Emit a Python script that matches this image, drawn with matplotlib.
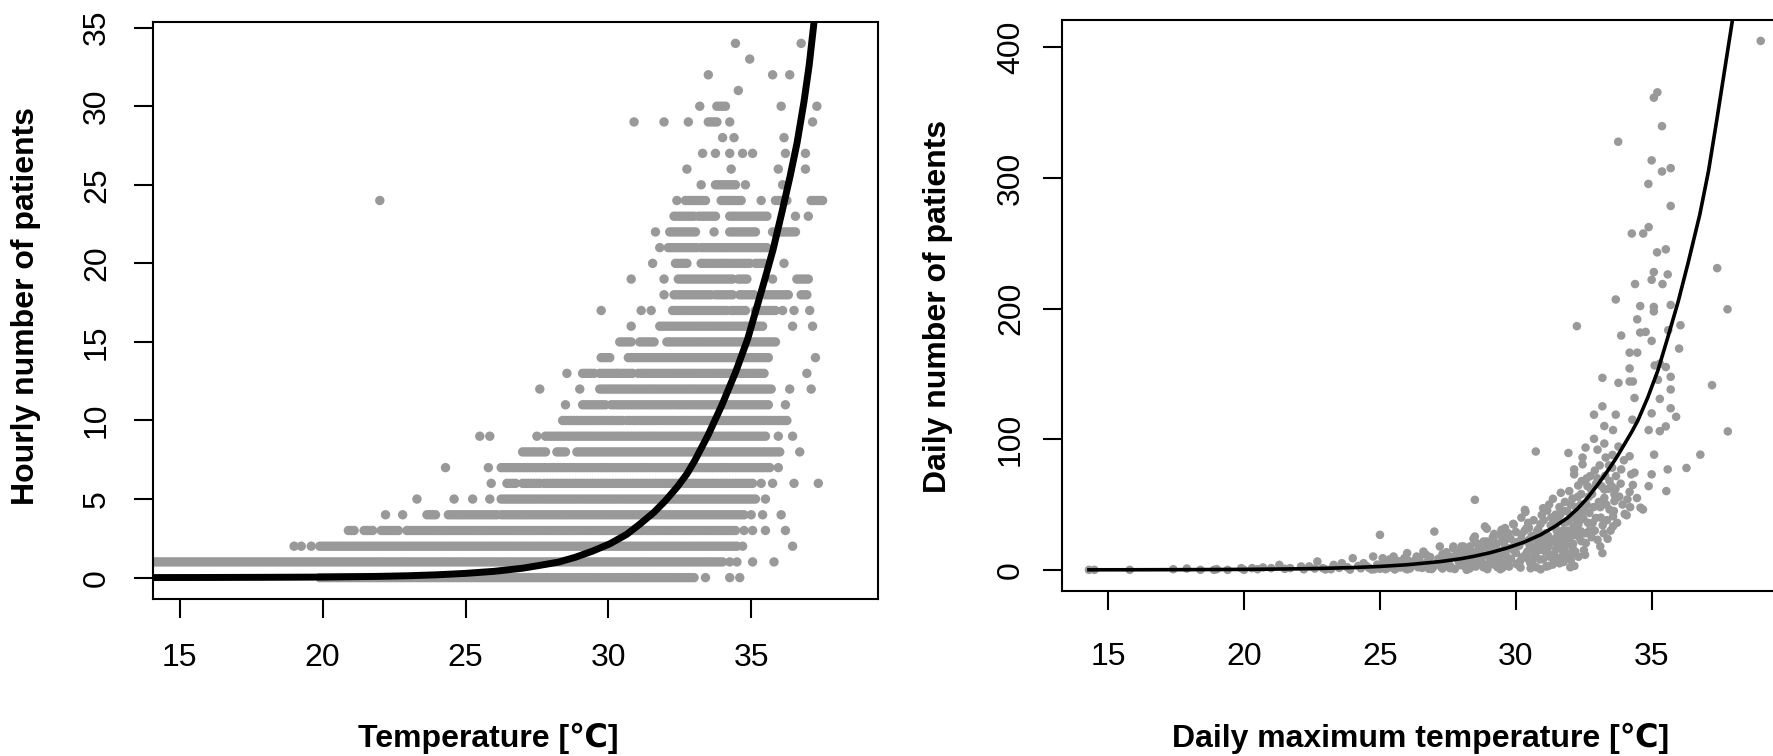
import numpy as np
import matplotlib
matplotlib.use("Agg")
import matplotlib.pyplot as plt

plt.rcParams["font.family"] = ["Liberation Sans", "DejaVu Sans"]

W, H = 1774, 756
DOT = "#999999"

# hourly counts 0..34, each with the temperature stretches (degC) where points sit
hourly_counts = list(range(35))
hourly_segments = [
    [(19.9, 33.0), (33.4, 33.4), (34.25, 34.25), (34.6, 34.6)],
    [(14.0, 34.05), (34.25, 34.25), (34.5, 34.5), (35.05, 35.05), (35.8, 35.8)],
    [(19.0, 19.0), (19.25, 19.25), (19.6, 19.6), (19.9, 34.5), (34.7, 34.7), (36.45, 36.45)],
    [(20.9, 21.1), (21.45, 21.75), (22.05, 22.7), (22.95, 34.45), (34.75, 34.75), (35.05, 35.05),
     (35.5, 35.5), (36.2, 36.2)],
    [(22.2, 22.2), (22.8, 22.8), (23.65, 23.95), (24.4, 26.1), (26.25, 34.8), (35.0, 35.0),
     (35.4, 35.4), (36.05, 36.05)],
    [(23.3, 23.3), (24.6, 24.6), (25.25, 25.25), (25.85, 25.85), (26.25, 35.2), (35.5, 35.5)],
    [(25.9, 25.9), (26.45, 26.7), (27.0, 27.6), (27.75, 35.1), (35.35, 35.35), (35.75, 35.75),
     (36.5, 36.5), (37.35, 37.35)],
    [(24.3, 24.3), (25.8, 25.8), (26.25, 27.1), (27.25, 27.95), (28.05, 35.65), (35.95, 35.95)],
    [(27.0, 27.75), (28.2, 28.5), (28.9, 35.95), (36.7, 36.7)],
    [(25.5, 25.5), (25.85, 25.85), (27.5, 27.5), (27.8, 35.55), (35.95, 35.95), (36.45, 36.45)],
    [(28.4, 29.1), (29.2, 30.5), (30.65, 36.2)],
    [(28.5, 28.5), (29.1, 29.9), (30.1, 35.6), (36.2, 36.2)],
    [(27.6, 27.6), (29.0, 29.0), (29.7, 30.25), (30.4, 35.75), (36.35, 36.35), (37.1, 37.1)],
    [(28.55, 28.55), (29.1, 29.5), (29.7, 30.25), (30.35, 30.85), (31.05, 35.5), (36.95, 36.95)],
    [(29.75, 30.05), (30.7, 35.65), (37.25, 37.25)],
    [(30.4, 30.8), (31.1, 31.6), (32.05, 35.85)],
    [(30.8, 30.8), (31.8, 35.45), (36.45, 36.45), (37.15, 37.15)],
    [(29.75, 29.75), (31.15, 31.15), (31.5, 31.5), (32.25, 34.2), (34.3, 34.8), (35.15, 35.85),
     (36.1, 36.1), (36.5, 36.5), (37.05, 37.05)],
    [(31.95, 31.95), (32.3, 33.6), (33.75, 34.4), (34.6, 35.1), (35.5, 36.35), (36.75, 37.0)],
    [(30.8, 30.8), (31.95, 31.95), (32.45, 34.35), (34.55, 34.9), (35.75, 35.75), (36.6, 37.0)],
    [(31.55, 31.55), (32.35, 32.8), (33.25, 34.95), (35.15, 35.5), (36.15, 36.15)],
    [(31.8, 31.8), (32.1, 33.15), (33.25, 35.6)],
    [(31.65, 31.65), (32.15, 32.95), (33.05, 33.05), (33.7, 33.7), (34.25, 35.15), (35.75, 36.55)],
    [(32.3, 32.95), (33.15, 33.8), (34.25, 35.55), (36.55, 36.55), (37.0, 37.0)],
    [(22.0, 22.0), (32.4, 32.4), (32.7, 33.45), (33.95, 34.65), (35.35, 35.35), (35.85, 36.3),
     (37.1, 37.5)],
    [(33.25, 33.25), (33.75, 34.5), (34.8, 34.8), (36.1, 36.1)],
    [(32.75, 32.75), (34.3, 34.3), (35.95, 35.95), (36.9, 36.9)],
    [(33.3, 33.3), (33.75, 33.75), (34.25, 34.25), (34.7, 34.7), (35.05, 35.05), (36.2, 36.2),
     (36.9, 36.9)],
    [(34.0, 34.0), (34.4, 34.4), (36.15, 36.15)],
    [(30.9, 30.9), (31.95, 31.95), (32.8, 32.8), (33.5, 33.8), (34.25, 34.25), (37.15, 37.15)],
    [(33.2, 33.2), (33.8, 34.15), (36.05, 36.05), (37.3, 37.3)],
    [(34.55, 34.55)],
    [(33.5, 33.5), (35.75, 35.75), (36.35, 36.35)],
    [(34.95, 34.95)],
    [(34.45, 34.45), (36.75, 36.75)],
]
TEMP_STEP = 0.1  # temperatures are recorded to 0.1 degC

# fitted curve, hourly panel
fit_hourly_t = [14.06, 16, 18, 20, 22, 23, 24, 25, 26, 26.5, 27, 27.6, 28.26, 28.85, 29.45, 30.05,
                30.64, 31.1, 31.6, 32.0, 32.43, 32.75, 33.03, 33.5, 33.98, 34.46, 34.88, 35.18,
                35.48, 35.77, 36.07, 36.37, 36.61, 36.85, 37.03, 37.21]
fit_hourly_n = [0.004, 0.009, 0.02, 0.035, 0.08, 0.12, 0.18, 0.27, 0.4, 0.5, 0.6, 0.78, 0.99,
                1.3, 1.69, 2.15, 2.75, 3.4, 4.16, 4.9, 5.81, 6.6, 7.46, 9.1, 11.0, 13.1, 15.2,
                17.1, 19.0, 20.9, 23.2, 25.6, 27.7, 30.3, 32.6, 35.5]

# daily panel: (daily max temperature, patients)
daily_cool = [
    (14.3, 0), (14.5, 0), (15.8, 0), (17.4, 0.5), (17.9, 1), (18.4, 0), (18.9, 0), (19.0, 0.5),
    (19.4, 0), (19.9, 1.3), (20.0, 0), (20.3, 1.3), (20.5, 0.5), (20.7, 1.8), (21.0, 1.3),
    (21.3, 3.8), (21.5, 0.8), (21.7, 1.3), (22.1, 2.6), (22.2, 0.4), (22.4, 2.6), (22.6, 1.0),
    (22.7, 6.4), (22.9, 1.3), (23.0, 0.3), (23.2, 0.5), (23.3, 3.8), (23.5, 1.5), (23.6, 5.1),
    (23.8, 2.0), (23.9, 0.2), (24.0, 8.9), (24.2, 3.0), (24.3, 1.2), (24.4, 5.1), (24.7, 0.3),
]
daily_warm = [
    (24.75, 10.2), (25.0, 26.8), (25.1, 8.9), (25.5, 10.2), (25.6, 3.8), (26.0, 12.8), (26.2, 3.8),
    (26.35, 10.2), (26.7, 11.5), (27.0, 29.3), (27.2, 17.9), (27.7, 17.9), (28.0, 17.9),
    (24.6, 1.5), (24.9, 4.0), (25.3, 2.0), (25.8, 6.5), (26.1, 1.0), (26.5, 5.5), (26.9, 3.0),
    (27.4, 8.0), (27.9, 6.0), (24.8, 0.5), (25.2, 0.5), (25.7, 2.5), (26.3, 7.5), (26.8, 0.8),
    (27.3, 12.0), (27.6, 2.5), (25.4, 6.0), (26.6, 14.0), (27.1, 5.0), (27.8, 9.5), (25.9, 9.0),
    (24.5, 3.0), (25.0, 0.8), (25.5, 1.2), (26.0, 0.4), (26.4, 2.0), (26.9, 0.6), (27.3, 1.0),
    (25.05, 2.2), (25.15, 5.5), (25.25, 1.0), (25.35, 8.0), (25.45, 3.3), (25.55, 0.3),
    (25.65, 6.8), (25.75, 1.8), (25.85, 4.2), (25.95, 0.9), (26.05, 7.0), (26.15, 2.8),
    (26.25, 5.0), (26.45, 9.5), (26.55, 1.5), (26.65, 3.8), (26.75, 6.2), (26.85, 9.8),
    (26.95, 1.8), (27.05, 4.5), (27.15, 8.5), (27.25, 2.2), (27.35, 6.0), (27.45, 13.5),
    (27.55, 4.0), (27.65, 10.0), (27.75, 0.6), (27.85, 13.0), (27.95, 3.6),
    (28.49, 53.6), (28.49, 25.5), (28.86, 33.2), (28.92, 21.7), (29.47, 30.6), (29.9, 35.2),
    (30.33, 45.9), (30.39, 31.9), (28.1, 3.0), (28.2, 10.0), (28.3, 1.0), (28.4, 14.0),
    (28.6, 6.0), (28.7, 12.0), (28.8, 2.0), (29.0, 16.0), (29.1, 8.0), (29.2, 4.0), (29.3, 20.0),
    (29.4, 11.0), (29.5, 1.5), (29.6, 18.0), (29.7, 7.0), (29.8, 24.0), (30.0, 13.0), (30.1, 3.5),
    (30.2, 27.0), (30.4, 9.0), (30.5, 19.0), (28.15, 15.5), (28.35, 5.0), (28.55, 20.5),
    (28.75, 10.5), (28.95, 0.5), (29.15, 25.0), (29.35, 14.5), (29.55, 5.5), (29.75, 2.5),
    (29.95, 21.0), (30.15, 6.5), (30.35, 11.5), (28.25, 8.0), (28.65, 17.0), (29.05, 12.5),
    (29.45, 26.0), (29.85, 16.5), (30.25, 22.0), (28.44, 23.8), (28.81, 21.7), (29.18, 22.3),
    (29.67, 23.8), (30.1, 21.7), (30.48, 23.0), (27.7, 16.6), (28.07, 17.9), (29.06, 15.3),
    (29.8, 16.6), (30.6, 17.1), (27.33, 10.2), (27.95, 8.9), (28.56, 6.4), (29.18, 7.6),
    (29.67, 3.8), (30.17, 1.7), (30.54, 1.2), (27.58, 1.2), (28.19, 0), (28.93, 1.2), (29.43, 0.5),
    (28.93, 31.5), (29.49, 29.5), (29.92, 34.6), (30.48, 32.0),
    (28.05, 7), (28.12, 12.5), (28.22, 4.5), (28.32, 18), (28.42, 9), (28.52, 2.5), (28.62, 14),
    (28.72, 7.5), (28.82, 17), (28.92, 4), (29.02, 9.5), (29.12, 19), (29.22, 13), (29.32, 2),
    (29.42, 7), (29.52, 22), (29.62, 12), (29.72, 28), (29.82, 8.5), (29.92, 15), (30.02, 4.5),
    (30.12, 18.5), (30.22, 9.5), (30.32, 30), (30.42, 14), (30.52, 5.5), (30.58, 26), (30.45, 36),
    (30.2, 40), (29.6, 32), (29.2, 27.5), (30.0, 29),
]
daily_hot = [
    (30.73, 90.6), (30.35, 44.3), (31.15, 45.4), (31.46, 42.3), (31.89, 44.9), (32.26, 41.0),
    (30.78, 29.5), (31.28, 34.1), (31.77, 35.9), (32.14, 33.3), (32.39, 29.5), (30.91, 25.6),
    (31.46, 24.3), (32.14, 26.9), (32.57, 20.5), (31.15, 15.3), (31.52, 19.2), (32.08, 16.6),
    (32.54, 11.5), (31.52, 8.9), (32.02, 7.6), (30.91, 0.4), (31.65, 59.0), (31.96, 60.3),
    (31.36, 54.4), (32.08, 54.6), (32.29, 64.6), (32.14, 76.9), (32.14, 73.1), (31.93, 89.5),
    (32.24, 186.6), (30.6, 5), (30.7, 12), (30.8, 20), (30.9, 35), (31.0, 8), (31.0, 47.2),
    (31.1, 28), (31.2, 3), (31.2, 18), (31.3, 40), (31.4, 12), (31.5, 30), (31.6, 5), (31.6, 48),
    (31.7, 22), (31.8, 14), (31.8, 52), (31.9, 30), (32.0, 2), (32.0, 40), (32.1, 20), (32.2, 48),
    (32.3, 10), (32.3, 35), (32.4, 58), (32.4, 22), (30.65, 38), (30.85, 15), (31.05, 22),
    (31.25, 10), (31.45, 33), (31.65, 16), (31.85, 26), (32.05, 12), (32.25, 30), (31.35, 4),
    (31.75, 6), (32.15, 3), (30.95, 42), (31.55, 38), (32.35, 44),
    (30.62, 9), (30.68, 24), (30.75, 2), (30.82, 31), (30.88, 8), (30.95, 18), (31.02, 38),
    (31.08, 14), (31.12, 2.5), (31.18, 26), (31.22, 50), (31.32, 22), (31.38, 36), (31.42, 7),
    (31.48, 16), (31.58, 27), (31.62, 42), (31.68, 10), (31.72, 30), (31.78, 45), (31.82, 19),
    (31.88, 9), (31.92, 37), (31.98, 24), (32.02, 50), (32.08, 31), (32.12, 42), (32.18, 14),
    (32.22, 38), (32.28, 56), (32.32, 25), (32.38, 50), (32.42, 68), (32.48, 39), (32.5, 15),
]
daily_peak = [
    (32.87, 118.8), (33.18, 125.2), (33.18, 147.0), (33.77, 143.2), (34.18, 144.2), (34.3, 144.2),
    (34.36, 131.6), (33.67, 118.8), (34.28, 115.0), (33.25, 110.1), (33.57, 107.0), (34.88, 107.0),
    (32.87, 100.3), (33.25, 96.7), (33.77, 94.4), (32.56, 93.6), (34.18, 87.0), (33.97, 83.9),
    (32.45, 86.0), (32.45, 80.8), (34.36, 74.4), (33.54, 78.2), (33.87, 76.9), (32.73, 71.8),
    (33.0, 70.0), (33.44, 68.0), (33.68, 71.8), (34.24, 73.1), (32.63, 64.1), (33.25, 61.5),
    (33.62, 57.7), (34.18, 59.7), (33.25, 55.1), (33.62, 52.6), (32.7, 43.6), (32.94, 39.7),
    (33.44, 46.2), (33.57, 41.0), (34.07, 41.8), (34.67, 46.2), (32.82, 35.9), (33.19, 34.1),
    (33.57, 33.3), (33.0, 23.0), (33.37, 23.8), (33.18, 12.8), (33.87, 179.4), (34.57, 181.7),
    (34.77, 182.2), (34.18, 166.3), (34.46, 166.3), (34.18, 154.2), (34.99, 175.3),
    (32.6, 50), (32.8, 58), (32.9, 76), (33.1, 48), (33.3, 86), (32.7, 30), (33.0, 92),
    (33.4, 62), (32.55, 28), (33.1, 18), (34.58, 47.6), (34.0, 42.8),
    (32.55, 45), (32.6, 70), (32.65, 36), (32.68, 56), (32.75, 62), (32.78, 25), (32.85, 48),
    (32.9, 30), (32.95, 66), (33.05, 52), (33.08, 80), (33.12, 40), (33.15, 64), (33.22, 28),
    (33.28, 72), (33.32, 50), (33.35, 38), (33.42, 80), (33.48, 30), (33.52, 64), (33.55, 88),
    (33.6, 45), (33.66, 62), (33.72, 36), (33.8, 56), (33.85, 66), (33.92, 50), (34.1, 54),
    (34.2, 48), (34.3, 65), (34.45, 55),
    (36.05, 187.3), (35.6, 183.5), (36.0, 169.4), (35.1, 156.5), (35.29, 157.8), (35.51, 155.3),
    (35.22, 145.5), (35.69, 147.8), (37.21, 141.4), (35.69, 138.1), (35.29, 130.9),
    (35.69, 123.7), (34.99, 119.8), (35.89, 117.2), (35.29, 106.2), (35.51, 109.8), (37.79, 106.0),
    (35.08, 88.2), (36.78, 88.2), (36.27, 78.0), (35.58, 76.9), (34.99, 73.1), (34.88, 64.1),
    (35.53, 60.3), (39.0, 405.0), (35.2, 365.6), (35.07, 361.5), (35.37, 339.7), (33.76, 327.8),
    (34.99, 313.5), (35.37, 305.0), (35.69, 307.6), (34.87, 295.5), (35.69, 278.6),
    (34.88, 262.4), (34.26, 257.5), (34.68, 257.5), (35.19, 243.1), (35.51, 245.4), (37.4, 231.0),
    (35.07, 228.0), (35.58, 226.2), (34.99, 222.1), (34.38, 218.8), (35.39, 218.8), (33.67, 207.0),
    (34.57, 202.0), (35.07, 201.3), (35.07, 197.9), (35.69, 202.8), (37.78, 199.5),
    (34.46, 191.8),
]

# fitted curve, daily panel
fit_daily_t = [14.3, 16, 18, 20, 22, 23, 24, 25, 26, 27.21, 28.0, 28.44, 29.05, 29.67, 30.3,
               30.91, 31.4, 31.89, 32.27, 32.63, 33.0, 33.37, 33.7, 33.99, 34.24, 34.48, 34.85,
               35.22, 35.59, 35.96, 36.33, 36.76, 37.08, 37.38, 37.67, 37.96]
fit_daily_n = [0.035, 0.07, 0.16, 0.35, 0.78, 1.17, 1.75, 2.6, 3.9, 6.3, 8.6, 10.3, 13.1, 16.7,
               21.2, 26.9, 32.8, 39.7, 46.9, 55.1, 65.0, 75.7, 86.0, 96.2, 105.0, 114.2, 132.1,
               152.7, 178.4, 205.0, 235.0, 272.0, 305.3, 343.8, 382.3, 420.8]


def add_axes_px(fig, x0, y0, x1, y1):
    return fig.add_axes([x0 / W, 1 - y1 / H, (x1 - x0) / W, (y1 - y0) / H])


def r_style(ax, xticks, yticks, xpad, ypad):
    for sp in ax.spines.values():
        sp.set_linewidth(1.5)
    ax.set_xticks(xticks)
    ax.set_yticks(yticks)
    ax.tick_params(direction="out", length=14, width=1.5, labelsize=23)
    ax.tick_params(axis="x", pad=xpad)
    ax.tick_params(axis="y", pad=ypad)
    plt.setp(ax.get_yticklabels(), rotation=90, va="center")


fig = plt.figure(figsize=(W / 100, H / 100), dpi=100)

# left: hourly
ax1 = add_axes_px(fig, 153, 22, 878, 599)
hx, hy = [], []
for n, segs in zip(hourly_counts, hourly_segments):
    for a, b in segs:
        xs = np.arange(a, b + TEMP_STEP / 2, TEMP_STEP)
        hx.extend(xs)
        hy.extend([n] * len(xs))
ax1.scatter(hx, hy, s=46, color=DOT, edgecolors="none", zorder=2)
ax1.plot(fit_hourly_t, fit_hourly_n, color="black", lw=5, zorder=3, solid_capstyle="butt")
ax1.set_xlim(14.06, 39.44)
ax1.set_ylim(-1.36, 35.36)
r_style(ax1, [15, 20, 25, 30, 35], [0, 5, 10, 15, 20, 25, 30, 35], 17.5, 15.5)

# right: daily
ax2 = add_axes_px(fig, 1062, 20, 1789, 591)
pts = daily_cool + daily_warm + daily_hot + daily_peak
dx, dy = zip(*pts)
ax2.scatter(dx, dy, s=38, color=DOT, edgecolors="none", zorder=2)
ax2.plot(fit_daily_t, fit_daily_n, color="black", lw=2.6, zorder=3)
ax2.set_xlim(13.31, 40.04)
ax2.set_ylim(-16.2, 421)
r_style(ax2, [15, 20, 25, 30, 35], [0, 100, 200, 300, 400], 22.7, 12)

lab = dict(fontsize=23, fontweight="bold", ha="center", va="center")
fig.text(488 / W, 1 - 738 / H, "Temperature [℃]", **lab)
fig.text(26.5 / W, 1 - 306 / H, "Hourly number of patients", rotation=90, **lab)
fig.text(1421 / W, 1 - 738 / H, "Daily maximum temperature [℃]", **lab)
fig.text(938 / W, 1 - 306 / H, "Daily number of patients", rotation=90, **lab)

fig.savefig("out.png", dpi=100)
